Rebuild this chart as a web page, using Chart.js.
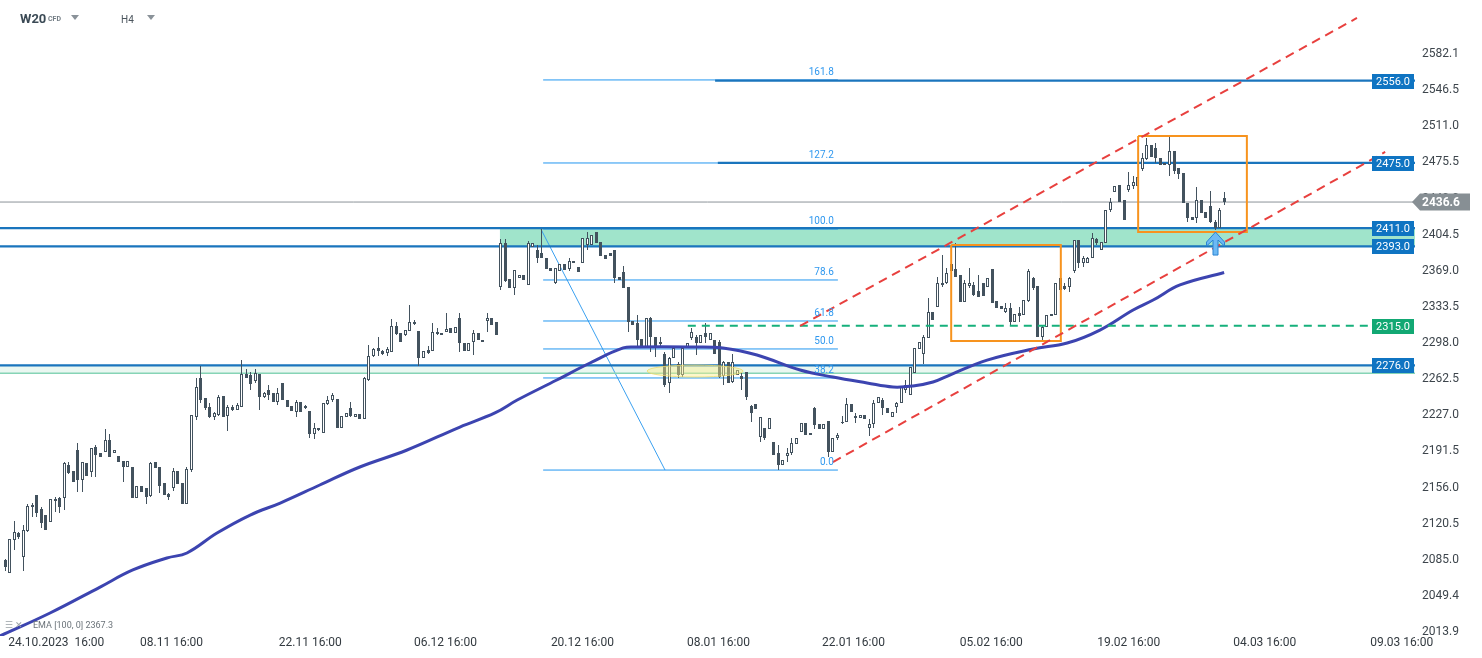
<!DOCTYPE html>
<html>
<head>
<meta charset="utf-8">
<title>W20 H4</title>
<script src="https://cdn.jsdelivr.net/npm/chart.js@4.4.1/dist/chart.umd.min.js"></script>
<style>
  html, body { margin: 0; padding: 0; background: #fff; }
  #wrap { position: relative; width: 1482px; height: 658px; overflow: hidden; font-family: Roboto, 'Noto Sans', sans-serif; }
  #chart { position: absolute; left: 0; top: 0; }
  .abs { position: absolute; white-space: nowrap; line-height: 1; }
  .tri { position: absolute; width: 0; height: 0; border-left: 4px solid transparent; border-right: 4px solid transparent; border-top: 5px solid #8a9299; }
</style>
</head>
<body>
<div id="wrap">
  <canvas id="chart" width="1482" height="658"></canvas>
  <div class="abs" style="left:20px;top:12px;font-weight:700;font-size:13px;color:#3b4a55;">W20</div>
  <div class="abs" style="left:48px;top:16px;font-weight:700;font-size:7px;color:#737d85;">CFD</div>
  <div class="tri" style="left:71px;top:15px;"></div>
  <div class="abs" style="left:121px;top:15px;font-size:10px;color:#4b555d;">H4</div>
  <div class="tri" style="left:147px;top:15px;"></div>
  <div class="abs" style="left:5px;top:621px;font-size:9px;color:#9aa1a6;">&#9776; &#10005;</div>
  <div class="abs" style="left:33px;top:621px;font-size:9px;color:#6b7379;">EMA [100, 0] 2367.3</div>
</div>
<script>
// candles, 4H, oldest first (x = candle index)
const opens = [
  2085, 2072, 2104, 2111, 2088, 2113, 2137, 2149, 2135, 2129,
  2122, 2143, 2146, 2146, 2178, 2172, 2193, 2163, 2180, 2171,
  2196, 2190, 2191, 2203, 2190, 2187, 2182, 2176, 2176, 2146,
  2158, 2156, 2148, 2181, 2176, 2160, 2150, 2156, 2172, 2160,
  2140, 2173, 2225, 2264, 2244, 2235, 2225, 2227, 2246, 2226,
  2235, 2232, 2235, 2268, 2267, 2261, 2268, 2245, 2252, 2249,
  2240, 2259, 2242, 2236, 2230, 2240, 2234, 2231, 2209, 2215,
  2210, 2238, 2242, 2243, 2215, 2225, 2234, 2225, 2228, 2223,
  2262, 2285, 2293, 2290, 2288, 2289, 2315, 2308, 2306, 2310,
  2319, 2310, 2283, 2291, 2290, 2309, 2308, 2309, 2313, 2308,
  2323, 2298, 2290, 2299, 2308, 2301, 2320, 2323, 2319, 2353,
  2396, 2361, 2352, 2362, 2365, 2355, 2392, 2389, 2387, 2382,
  2372, 2357, 2369, 2376, 2371, 2379, 2373, 2377, 2394, 2394,
  2407, 2397, 2385, 2387, 2389, 2363, 2368, 2353, 2320, 2318,
  2302, 2294, 2323, 2304, 2297, 2287, 2259, 2283, 2277, 2267,
  2294, 2303, 2304, 2298, 2308, 2301, 2301, 2299, 2266, 2279,
  2260, 2267, 2266, 2270, 2236, 2238, 2206, 2215, 2214, 2201,
  2190, 2178, 2187, 2190, 2199, 2211, 2219, 2208, 2234, 2218,
  2214, 2221, 2191, 2205, 2219, 2220, 2238, 2226, 2224, 2227,
  2215, 2218, 2239, 2242, 2234, 2225, 2235, 2239, 2252, 2247,
  2269, 2292, 2287, 2303, 2329, 2333, 2355, 2357, 2376, 2371,
  2365, 2338, 2354, 2355, 2349, 2357, 2353, 2371, 2339, 2334,
  2329, 2332, 2319, 2328, 2326, 2339, 2362, 2354, 2304, 2314,
  2327, 2326, 2350, 2354, 2353, 2369, 2399, 2377, 2377, 2382,
  2400, 2389, 2396, 2429, 2446, 2453, 2439, 2448, 2452, 2452,
  2469, 2479, 2493, 2490, 2480, 2475, 2473, 2487, 2470, 2465,
  2436, 2422, 2421, 2439, 2427, 2433, 2417, 2411, 2441
];
const highs = [
  2086, 2105, 2123, 2112, 2119, 2140, 2141, 2149, 2137, 2129,
  2145, 2147, 2147, 2181, 2181, 2172, 2200, 2181, 2180, 2195,
  2198, 2190, 2214, 2209, 2193, 2187, 2182, 2182, 2176, 2158,
  2158, 2156, 2181, 2181, 2176, 2160, 2151, 2175, 2172, 2160,
  2176, 2227, 2264, 2275, 2244, 2239, 2230, 2247, 2246, 2237,
  2237, 2239, 2281, 2273, 2270, 2273, 2268, 2250, 2257, 2249,
  2254, 2259, 2242, 2236, 2242, 2240, 2237, 2231, 2219, 2215,
  2239, 2246, 2249, 2243, 2226, 2229, 2240, 2228, 2228, 2265,
  2296, 2293, 2304, 2291, 2294, 2322, 2319, 2308, 2311, 2335,
  2321, 2310, 2290, 2295, 2318, 2313, 2308, 2328, 2313, 2314,
  2328, 2298, 2298, 2311, 2308, 2301, 2328, 2323, 2319, 2400,
  2400, 2361, 2370, 2365, 2365, 2398, 2396, 2394, 2410, 2382,
  2372, 2372, 2376, 2376, 2382, 2379, 2373, 2401, 2407, 2404,
  2407, 2397, 2385, 2387, 2389, 2363, 2374, 2353, 2320, 2326,
  2302, 2323, 2324, 2304, 2304, 2289, 2284, 2293, 2279, 2295,
  2298, 2313, 2306, 2306, 2318, 2308, 2301, 2301, 2280, 2279,
  2287, 2272, 2269, 2270, 2237, 2238, 2225, 2215, 2224, 2201,
  2198, 2183, 2195, 2205, 2205, 2219, 2219, 2210, 2235, 2218,
  2218, 2221, 2205, 2210, 2226, 2244, 2238, 2229, 2227, 2227,
  2223, 2242, 2245, 2244, 2234, 2230, 2240, 2255, 2262, 2274,
  2293, 2299, 2306, 2342, 2329, 2363, 2385, 2372, 2376, 2396,
  2365, 2360, 2372, 2358, 2365, 2357, 2362, 2371, 2339, 2334,
  2337, 2337, 2327, 2333, 2340, 2371, 2363, 2354, 2316, 2326,
  2327, 2357, 2372, 2357, 2363, 2399, 2399, 2384, 2383, 2406,
  2401, 2397, 2429, 2441, 2452, 2453, 2439, 2466, 2462, 2461,
  2485, 2500, 2493, 2495, 2480, 2475, 2501, 2487, 2470, 2465,
  2436, 2422, 2451, 2439, 2427, 2447, 2419, 2431, 2446
];
const lows = [
  2074, 2072, 2095, 2105, 2074, 2112, 2127, 2127, 2116, 2114,
  2122, 2132, 2131, 2134, 2169, 2161, 2152, 2152, 2167, 2166,
  2166, 2186, 2191, 2186, 2190, 2181, 2161, 2176, 2146, 2146,
  2152, 2140, 2147, 2175, 2151, 2149, 2144, 2153, 2159, 2140,
  2140, 2171, 2222, 2239, 2232, 2224, 2222, 2226, 2225, 2212,
  2231, 2232, 2235, 2264, 2252, 2259, 2232, 2244, 2242, 2240,
  2237, 2242, 2235, 2231, 2225, 2230, 2233, 2205, 2204, 2212,
  2210, 2237, 2240, 2215, 2215, 2225, 2225, 2225, 2223, 2223,
  2261, 2284, 2285, 2286, 2285, 2289, 2306, 2299, 2305, 2310,
  2316, 2275, 2283, 2287, 2290, 2306, 2306, 2309, 2308, 2308,
  2289, 2290, 2290, 2286, 2301, 2299, 2309, 2316, 2306, 2350,
  2358, 2352, 2345, 2362, 2360, 2355, 2392, 2377, 2382, 2371,
  2369, 2356, 2369, 2370, 2369, 2377, 2368, 2377, 2389, 2394,
  2396, 2384, 2381, 2384, 2357, 2360, 2352, 2309, 2316, 2293,
  2293, 2294, 2289, 2284, 2294, 2255, 2249, 2283, 2264, 2265,
  2294, 2301, 2286, 2298, 2298, 2301, 2287, 2264, 2257, 2259,
  2259, 2267, 2252, 2242, 2220, 2233, 2201, 2203, 2214, 2188,
  2173, 2178, 2181, 2188, 2199, 2211, 2208, 2208, 2214, 2214,
  2214, 2186, 2191, 2203, 2218, 2220, 2230, 2219, 2224, 2223,
  2207, 2215, 2239, 2227, 2229, 2225, 2229, 2239, 2249, 2247,
  2269, 2292, 2277, 2303, 2321, 2333, 2353, 2356, 2369, 2363,
  2338, 2338, 2352, 2344, 2343, 2344, 2353, 2337, 2332, 2331,
  2328, 2316, 2319, 2319, 2326, 2338, 2350, 2304, 2301, 2314,
  2325, 2326, 2350, 2350, 2348, 2367, 2372, 2373, 2377, 2382,
  2394, 2389, 2396, 2427, 2446, 2437, 2419, 2446, 2449, 2452,
  2467, 2478, 2481, 2475, 2473, 2473, 2462, 2464, 2459, 2436,
  2417, 2419, 2416, 2426, 2421, 2416, 2409, 2411, 2434
];
const closes = [
  2078, 2105, 2112, 2107, 2114, 2138, 2139, 2131, 2121, 2114,
  2145, 2145, 2137, 2180, 2170, 2161, 2163, 2181, 2167, 2195,
  2188, 2186, 2203, 2186, 2193, 2181, 2176, 2182, 2146, 2158,
  2152, 2147, 2180, 2175, 2158, 2149, 2147, 2172, 2159, 2140,
  2174, 2227, 2255, 2242, 2234, 2225, 2229, 2245, 2225, 2235,
  2232, 2237, 2268, 2264, 2258, 2269, 2245, 2249, 2247, 2240,
  2249, 2242, 2235, 2231, 2240, 2230, 2236, 2209, 2215, 2213,
  2239, 2242, 2247, 2215, 2226, 2229, 2226, 2228, 2223, 2264,
  2285, 2292, 2290, 2287, 2292, 2315, 2307, 2299, 2311, 2319,
  2317, 2283, 2290, 2288, 2309, 2307, 2306, 2312, 2308, 2314,
  2298, 2290, 2298, 2308, 2301, 2299, 2323, 2316, 2306, 2396,
  2359, 2352, 2370, 2365, 2360, 2396, 2396, 2382, 2382, 2371,
  2369, 2372, 2376, 2370, 2379, 2377, 2368, 2401, 2401, 2404,
  2396, 2384, 2381, 2384, 2362, 2360, 2352, 2319, 2316, 2301,
  2293, 2323, 2304, 2294, 2299, 2257, 2283, 2293, 2267, 2293,
  2298, 2309, 2298, 2306, 2304, 2308, 2287, 2265, 2279, 2259,
  2279, 2272, 2263, 2245, 2229, 2233, 2225, 2205, 2224, 2188,
  2178, 2183, 2190, 2200, 2205, 2219, 2208, 2210, 2217, 2214,
  2218, 2191, 2205, 2208, 2220, 2238, 2230, 2224, 2227, 2223,
  2218, 2239, 2245, 2234, 2229, 2230, 2239, 2255, 2257, 2274,
  2293, 2299, 2304, 2329, 2321, 2357, 2357, 2367, 2369, 2363,
  2338, 2357, 2357, 2345, 2343, 2344, 2362, 2337, 2332, 2331,
  2332, 2319, 2327, 2325, 2340, 2369, 2352, 2304, 2314, 2326,
  2325, 2357, 2362, 2351, 2362, 2399, 2377, 2382, 2382, 2401,
  2396, 2397, 2429, 2437, 2452, 2437, 2419, 2453, 2456, 2461,
  2480, 2493, 2481, 2480, 2473, 2473, 2487, 2467, 2464, 2436,
  2421, 2419, 2439, 2426, 2421, 2417, 2411, 2429, 2436.6
];

// EMA(100) read at sampled candle positions
const emaIdx = [-1.1, 9.9, 20.9, 28.1, 35.6, 40.0, 46.6, 53.9, 60.5, 69.2, 78.0, 88.4, 100.0, 107.7, 112.6,
  121.3, 128.6, 135.9, 138.9, 150.6, 157.8, 165.3, 174.8, 182.0, 189.5, 195.2, 199.6, 204.0, 207.7, 215.9,
  226.0, 233.5, 240.7, 248.0, 252.4, 258.3, 268];
const emaVal = [2010.1, 2032.7, 2058.2, 2075.0, 2086.8, 2091.7, 2111.3, 2129.0, 2140.8, 2158.5, 2176.2, 2192.9,
  2215.5, 2229.3, 2242.0, 2261.7, 2278.4, 2293.2, 2294.1, 2294.1, 2293.2, 2286.3, 2271.5, 2264.6, 2258.8,
  2254.8, 2255.8, 2259.7, 2266.6, 2281.3, 2292.2, 2298.0, 2310.8, 2330.5, 2340.3, 2355.1, 2367.3];

// horizontal levels and tags
const levelVals = [2556.0, 2475.0, 2411.0, 2393.0, 2276.0];
const greenLevel = 2315.0;
const lastPrice = 2436.6;

// fibonacci retracement
const fibNames = ['0.0', '38.2', '50.0', '61.8', '78.6', '100.0', '127.2', '161.8'];
const fibVals = [2173.2, 2263.7, 2292.2, 2319.7, 2360.0, 2410.1, 2475.0, 2556.6];

// axes
const yTicks = [2013.9, 2049.4, 2085.0, 2120.5, 2156.0, 2191.5, 2227.0, 2262.5, 2298.0, 2333.5,
  2369.0, 2404.5, 2440.0, 2475.5, 2511.0, 2546.5, 2582.1];
const xTickIdx = [0.7, 29.7, 60.2, 89.9, 120.0, 149.9, 179.6, 209.9, 240.1, 270.0, 300.1];
const xTickLabels = ['24.10.2023  16:00', '08.11 16:00', '22.11 16:00', '06.12 16:00', '20.12 16:00',
  '08.01 16:00', '22.01 16:00', '05.02 16:00', '19.02 16:00', '04.03 16:00', '09.03 16:00'];

const X_MIN = -1.1, X_MAX = 309.96;
const Y_MIN = 2010.1, Y_MAX = 2635.17;

const CANDLE = '#43525e';
const LEVEL_BLUE = '#1a75bd';
const FIB_BLUE = '#2196f0';

function seg(points, color, width, dash, order) {
  return {
    type: 'line', data: points, borderColor: color, borderWidth: width,
    borderDash: dash || [], pointRadius: 0, tension: 0, fill: false, order: order
  };
}

const datasets = [];

// candle wicks and bodies
datasets.push({
  type: 'bar', data: highs.map((h, i) => ({ x: i, y: [lows[i], h] })),
  backgroundColor: CANDLE, barThickness: 1, grouped: false, inflateAmount: 0, order: 6
});
datasets.push({
  type: 'bar', data: opens.map((o, i) => ({ x: i, y: [o, closes[i]] })),
  backgroundColor: opens.map((o, i) => closes[i] >= o ? '#ffffff' : CANDLE),
  borderColor: CANDLE, borderWidth: 1, borderSkipped: false,
  barThickness: 3, minBarLength: 1, grouped: false, inflateAmount: 0, order: 5
});

// EMA
datasets.push({
  type: 'line', data: emaIdx.map((x, i) => ({ x: x, y: emaVal[i] })),
  borderColor: '#3c44b0', borderWidth: 3, pointRadius: 0, tension: 0.4, fill: false, order: 3
});

// horizontal levels
const levelStart = [156.1, 156.7, X_MIN, X_MIN, X_MIN];
levelVals.forEach((v, i) => {
  datasets.push(seg([{ x: levelStart[i], y: v }, { x: X_MAX, y: v }], LEVEL_BLUE, 2.2, null, 8));
});
datasets.push(seg([{ x: X_MIN, y: 2268.3 }, { x: X_MAX, y: 2268.3 }], '#86d4b6', 1.5, null, 9));
datasets.push(seg([{ x: X_MIN, y: lastPrice }, { x: X_MAX, y: lastPrice }], '#8b9398', 1, null, 9));
datasets.push(seg([{ x: 150.1, y: greenLevel }, { x: X_MAX, y: greenLevel }], '#16b07b', 2, [8, 6], 2));

// fibonacci lines and its trend line
fibVals.forEach(v => {
  datasets.push(seg([{ x: 118.3, y: v }, { x: 183.1, y: v }], FIB_BLUE, 1, null, 9));
});
datasets.push(seg([{ x: 117.8, y: 2410.1 }, { x: 145.1, y: 2173.2 }], '#3aa0f0', 1, null, 9));

// red channel
datasets.push(seg([{ x: 174.8, y: 2314.8 }, { x: 297.2, y: 2617.5 }], '#e8403e', 2, [9, 6], 1));
datasets.push(seg([{ x: 182.0, y: 2181.1 }, { x: 303.4, y: 2485.8 }], '#e8403e', 2, [9, 6], 1));

// orange boxes
datasets.push(seg([{ x: 208.0, y: 2394.4 }, { x: 232.1, y: 2394.4 }, { x: 232.1, y: 2300.0 },
  { x: 208.0, y: 2300.0 }, { x: 208.0, y: 2394.4 }], '#f7931e', 2, null, 1));
datasets.push(seg([{ x: 249.1, y: 2501.5 }, { x: 273.0, y: 2501.5 }, { x: 273.0, y: 2407.1 },
  { x: 249.1, y: 2407.1 }, { x: 249.1, y: 2501.5 }], '#f7931e', 2, null, 1));

// keep candles on whole pixels
const snap = {
  id: 'snap',
  afterDatasetsUpdate(chart) {
    chart.data.datasets.forEach((ds, i) => {
      const meta = chart.getDatasetMeta(i);
      if (meta.type !== 'bar') return;
      meta.data.forEach(el => {
        el.x = Math.floor(el.x) + 0.5;
        el.y = Math.round(el.y);
        el.base = Math.round(el.base);
        if (el.y === el.base) el.y = el.base - 1;
      });
    });
  }
};

function tag(ctx, right, yPix, text, color) {
  const yc = Math.round(yPix);
  ctx.fillStyle = color;
  ctx.fillRect(right - 43, yc - 7, 42, 15);
  ctx.fillStyle = '#ffffff';
  ctx.font = '11px Roboto';
  ctx.textAlign = 'center';
  ctx.textBaseline = 'middle';
  ctx.fillText(text, right - 22, yc + 1);
}

const overlay = {
  id: 'overlay',
  beforeDatasetsDraw(chart) {
    const { ctx, chartArea: a, scales: { x, y } } = chart;
    ctx.save();
    const zx = x.getPixelForValue(108.8);
    const zt = y.getPixelForValue(2411.0), zb = y.getPixelForValue(2393.0);
    ctx.fillStyle = '#a0e4cb';
    ctx.fillRect(zx, zt, a.right - zx, zb - zt);
    const bt = y.getPixelForValue(2276.0), bb = y.getPixelForValue(2268.3);
    ctx.fillStyle = '#eaf7f1';
    ctx.fillRect(a.left, bt, a.right - a.left, bb - bt);
    ctx.restore();
  },
  afterDatasetsDraw(chart) {
    const { ctx, scales: { x, y } } = chart;
    ctx.save();
    // highlight ellipse
    ctx.beginPath();
    ctx.ellipse(x.getPixelForValue(151.7), y.getPixelForValue(2270.5), 48, 6, 0, 0, Math.PI * 2);
    ctx.fillStyle = 'rgba(250, 238, 140, 0.45)';
    ctx.fill();
    ctx.strokeStyle = 'rgba(236, 220, 110, 0.8)';
    ctx.lineWidth = 1;
    ctx.stroke();
    // fib level names
    ctx.font = '10px Roboto';
    ctx.fillStyle = '#2f98ef';
    ctx.textAlign = 'right';
    ctx.textBaseline = 'alphabetic';
    const fx = x.getPixelForValue(182.2);
    fibVals.forEach((v, i) => ctx.fillText(fibNames[i], fx, y.getPixelForValue(v) - 5));
    // blue arrow under the last low
    const ax = Math.round(x.getPixelForValue(266.0)) + 0.5, ay = y.getPixelForValue(2407.1);
    ctx.beginPath();
    ctx.moveTo(ax, ay);
    ctx.lineTo(ax + 9, ay + 10); ctx.lineTo(ax + 9, ay + 14); ctx.lineTo(ax + 2.5, ay + 8);
    ctx.lineTo(ax + 2.5, ay + 23); ctx.lineTo(ax - 2.5, ay + 23); ctx.lineTo(ax - 2.5, ay + 8);
    ctx.lineTo(ax - 9, ay + 14); ctx.lineTo(ax - 9, ay + 10);
    ctx.closePath();
    ctx.fillStyle = '#6db9f4';
    ctx.fill();
    ctx.strokeStyle = '#2a84d2';
    ctx.stroke();
    ctx.restore();
  },
  afterDraw(chart) {
    const { ctx, chartArea: a, scales: { y } } = chart;
    ctx.save();
    levelVals.forEach(v => tag(ctx, a.right, y.getPixelForValue(v), v.toFixed(1), '#0f74c2'));
    tag(ctx, a.right, y.getPixelForValue(greenLevel), greenLevel.toFixed(1), '#12a873');
    // last price
    const yc = Math.round(y.getPixelForValue(lastPrice));
    ctx.beginPath();
    ctx.moveTo(a.right - 3, yc);
    ctx.lineTo(a.right + 5, yc - 8.5);
    ctx.lineTo(a.right + 55, yc - 8.5);
    ctx.lineTo(a.right + 55, yc + 8.5);
    ctx.lineTo(a.right + 5, yc + 8.5);
    ctx.closePath();
    ctx.fillStyle = '#878f94';
    ctx.fill();
    ctx.fillStyle = '#ffffff';
    ctx.font = 'bold 12px Roboto';
    ctx.textAlign = 'left';
    ctx.textBaseline = 'middle';
    ctx.fillText(lastPrice.toFixed(1), a.right + 7, yc + 1);
    ctx.restore();
  }
};

Chart.defaults.font.family = 'Roboto';

new Chart(document.getElementById('chart').getContext('2d'), {
  type: 'bar',
  data: { datasets: datasets },
  options: {
    responsive: false,
    animation: false,
    devicePixelRatio: 1,
    layout: { padding: 0 },
    plugins: { legend: { display: false }, tooltip: { enabled: false } },
    scales: {
      x: {
        type: 'linear', min: X_MIN, max: X_MAX, offset: false,
        grid: { display: false, drawTicks: false }, border: { display: false },
        ticks: {
          autoSkip: false, maxRotation: 0, align: 'start', padding: 0,
          color: '#333a40', font: { size: 12 },
          callback: (v, i) => xTickLabels[i]
        },
        afterBuildTicks: s => { s.ticks = xTickIdx.map(v => ({ value: v })); },
        afterFit: s => { s.height = 22; s.paddingLeft = 0; s.paddingRight = 0; }
      },
      y: {
        type: 'linear', position: 'right', min: Y_MIN, max: Y_MAX,
        grid: { display: false, drawTicks: false }, border: { display: false },
        ticks: {
          autoSkip: false, padding: 7, color: '#3d454c', font: { size: 12 },
          callback: v => Number(v).toFixed(1)
        },
        afterBuildTicks: s => { s.ticks = yTicks.map(v => ({ value: v })); },
        afterFit: s => { s.width = 67; s.paddingTop = 0; s.paddingBottom = 0; }
      }
    }
  },
  plugins: [snap, overlay]
});
</script>
</body>
</html>
